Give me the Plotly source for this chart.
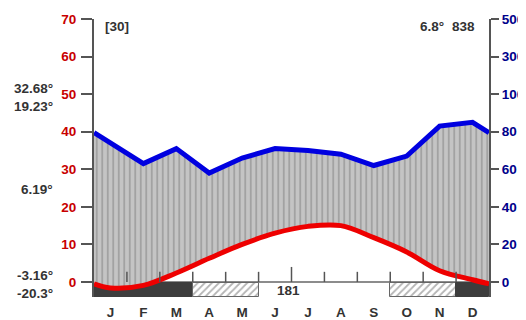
import plotly.graph_objects as go

months = ["J", "F", "M", "A", "M", "J", "J", "A", "S", "O", "N", "D"]
temperature = [-1.6, -0.9, 2.4, 6.3, 10.0, 13.0, 14.8, 15.0, 11.8, 8.0, 3.0, 0.6]
precipitation = [74, 63, 71, 58, 66, 71, 70, 68, 62, 67, 83, 85]
frost = ["certain", "certain", "certain", "possible", "possible", "none",
         "none", "none", "none", "possible", "possible", "certain"]
temp_ticks = [0, 10, 20, 30, 40, 50, 60, 70]
precip_ticks = ["0", "20", "40", "60", "80", "100", "300", "500"]
left_notes = [("32.68°", 51.4), ("19.23°", 46.6), ("6.19°", 24.5), ("-3.16°", 1.6), ("-20.3°", -3.2)]
years = "[30]"
mean_temp = "6.8°"
annual_precip = "838"
frost_free_days = "181"

FONT = "Liberation Sans"
FS = 13.5
TXT = "#333333"
RED_T = "#c80000"
NAVY = "#00008b"


def p_to_t(p):
    return p / 2.0 if p <= 100 else 50 + (p - 100) / 20.0


xc = [i + 0.5 for i in range(12)]
xs = [0] + xc + [12]
t_edge = (temperature[0] + temperature[-1]) / 2
p_edge = (precipitation[0] + precipitation[-1]) / 2
t_vals = [t_edge] + temperature + [t_edge]
p_vals = [p_to_t(v) for v in [p_edge] + precipitation + [p_edge]]

fig = go.Figure()

# frost bars (runs of equal category)
runs = []
start = 0
for i in range(1, 13):
    if i == 12 or frost[i] != frost[start]:
        runs.append((start, i, frost[start]))
        start = i
bar_top, bar_base = -0.35, -4.0
for a, b, kind in runs:
    if kind == "none":
        continue
    if kind == "certain":
        marker = dict(color="#3d3d3d", line=dict(color="#3d3d3d", width=1))
    else:
        marker = dict(color="white",
                      pattern=dict(shape="/", fgcolor="#6a6a6a", bgcolor="white", size=5, solidity=0.35),
                      line=dict(color="#666666", width=1))
    fig.add_trace(go.Bar(x=[(a + b) / 2], y=[bar_top - bar_base], base=[bar_base], width=[b - a],
                         marker=marker, hoverinfo="skip", showlegend=False))

# base temperature path (invisible) for fill
fig.add_trace(go.Scatter(x=xs, y=t_vals, mode="lines", line=dict(shape="spline", width=0, color="rgba(0,0,0,0)"),
                         showlegend=False, hoverinfo="skip"))
# precipitation with humid fill
fig.add_trace(go.Scatter(x=xs, y=p_vals, mode="lines", line=dict(color="#0000e0", width=5),
                         fill="tonexty", fillcolor="#bdbdbd",
                         fillpattern=dict(shape="|", fgcolor="#777777", bgcolor="#c4c4c4", size=5.5, solidity=0.3),
                         showlegend=False))
# temperature line
fig.add_trace(go.Scatter(x=xs, y=t_vals, mode="lines", line=dict(shape="spline", color="#ee0000", width=5),
                         showlegend=False))
# secondary axis carrier
fig.add_trace(go.Scatter(x=[0], y=[0], yaxis="y2", mode="markers", marker=dict(opacity=0), showlegend=False,
                         hoverinfo="skip"))

shapes = [dict(type="line", xref="x", yref="y", x0=0, x1=12, y0=0, y1=0,
               line=dict(color="#8c8c8c", width=2), layer="below")]
for k in range(1, 12):
    h = 4.0 if k == 6 else 2.7
    shapes.append(dict(type="line", xref="x", yref="y", x0=k, x1=k, y0=0, y1=h,
                       line=dict(color="#555555", width=1.5)))

bold = dict(family=FONT, size=FS, color=TXT, weight="bold")
ann = []
for txt, yv in left_notes:
    ann.append(dict(text=txt, xref="paper", x=0, xanchor="right", xshift=-39, yref="y", y=yv,
                    showarrow=False, font=bold))
ann.append(dict(text=years, xref="x", x=0.71, yref="y", y=67.9, showarrow=False, font=bold))
ann.append(dict(text=mean_temp, xref="x", x=10.27, yref="y", y=67.9, showarrow=False, font=bold))
ann.append(dict(text=annual_precip, xref="x", x=11.23, yref="y", y=67.9, showarrow=False, font=bold))
ann.append(dict(text=frost_free_days, xref="x", x=5.9, yref="y", y=-2.15, showarrow=False, font=bold))
ann.append(dict(text="[°C]", xref="paper", x=0, xanchor="right", xshift=0, yref="y", y=-7.45,
                showarrow=False, font=dict(family=FONT, size=FS, color=RED_T, weight="bold")))
ann.append(dict(text="[mm]", xref="paper", x=1, xanchor="left", xshift=-1, yref="y", y=-7.45,
                showarrow=False, font=dict(family=FONT, size=FS, color=NAVY, weight="bold")))

# page body has an 8px default margin: shrink the figure so the plot lands where the reference's does
fig.update_layout(
    width=518, height=312,
    margin=dict(l=86, r=37, t=11, b=23),
    paper_bgcolor="white", plot_bgcolor="white",
    barmode="overlay", bargap=0,
    showlegend=False,
    shapes=shapes, annotations=ann,
    xaxis=dict(range=[0, 12], tickvals=xc, ticktext=months, showgrid=False, zeroline=False,
               showline=False, ticks="", ticklabelstandoff=5, automargin=False,
               tickfont=dict(family=FONT, size=FS, color=TXT, weight="bold")),
    yaxis=dict(range=[-4, 70], tickvals=temp_ticks, showgrid=False, zeroline=False, automargin=False,
               showline=True, linecolor="#555555", linewidth=2, ticks="outside", ticklen=11,
               tickwidth=2, tickcolor="#555555", ticklabelstandoff=2,
               tickfont=dict(family=FONT, size=FS, color=RED_T, weight="bold")),
    yaxis2=dict(range=[-4, 70], overlaying="y", side="right", tickvals=temp_ticks, ticktext=precip_ticks,
                showgrid=False, zeroline=False, showline=True, linecolor="#555555", linewidth=2,
                automargin=False,
                ticks="outside", ticklen=8, tickwidth=2, tickcolor="#555555", ticklabelstandoff=0,
                tickfont=dict(family=FONT, size=FS, color=NAVY, weight="bold")),
)

fig.write_html("out.html")
